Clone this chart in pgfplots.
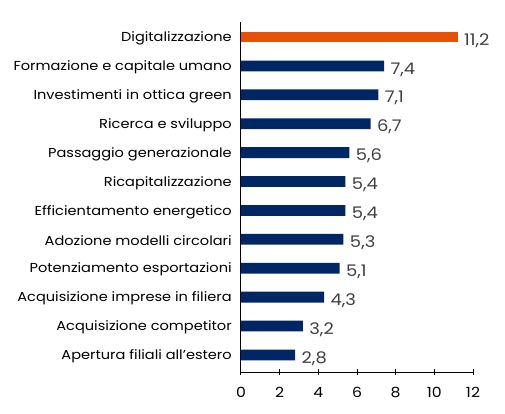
\documentclass[border=0pt]{standalone}
\usepackage{pgfplots}
\pgfplotsset{compat=1.18}
\usepackage{fontspec}
\setmainfont{Poppins}[FakeStretch=1.12]
\definecolor{navy}{RGB}{0,38,100}
\definecolor{orng}{RGB}{230,81,5}
\definecolor{lblgray}{RGB}{64,64,64}
\begin{document}
\begin{tikzpicture}
\useasboundingbox (-241pt,-42pt) rectangle (264pt,372pt);
\begin{axis}[
  at={(0pt,0pt)}, anchor=south west,
  scale only axis, width=232pt, height=350pt,
  xbar, bar width=10.8pt, bar shift=0pt,
  xmin=0, xmax=12, ymin=-0.59, ymax=11.52,
  xtick={0,2,...,12},
  ytick={0,...,11},
  yticklabels={Apertura filiali all'estero, Acquisizione competitor, Acquisizione imprese in filiera, Potenziamento esportazioni, Adozione modelli circolari, Efficientamento energetico, {Ricapitalizzazione\ }, Passaggio generazionale, Ricerca e sviluppo, Investimenti in ottica green, Formazione e capitale umano, Digitalizzazione},
  axis x line*=bottom, axis y line*=left,
  axis line style={-, line width=1pt, black},
  x tick style={line width=1pt, black},
  major tick length=5.5pt, tick align=center,
  y tick style={draw=none},
  /pgf/number format/assume math mode=true,
  xticklabel style={font=\fontsize{14}{16}\selectfont, text=black, yshift=-9pt},
  yticklabel style={font=\fontsize{13}{15}\selectfont, text=black, xshift=-3pt, yshift=-1.5pt},
  nodes near coords,
  point meta=x,
  nodes near coords style={font=\fontsize{16}{18}\selectfont, text=lblgray, anchor=west, xshift=3pt, yshift=-3.5pt,
    /pgf/number format/.cd, fixed, fixed zerofill, precision=1, use comma},
]
\addplot[fill=navy, draw=none] coordinates {
 (2.8,0) (3.2,1) (4.3,2) (5.1,3) (5.3,4) (5.4,5) (5.4,6) (5.6,7) (6.7,8) (7.1,9) (7.4,10)
};
\addplot[fill=orng, draw=none] coordinates {(11.2,11)};
\end{axis}
\end{tikzpicture}
\end{document}
